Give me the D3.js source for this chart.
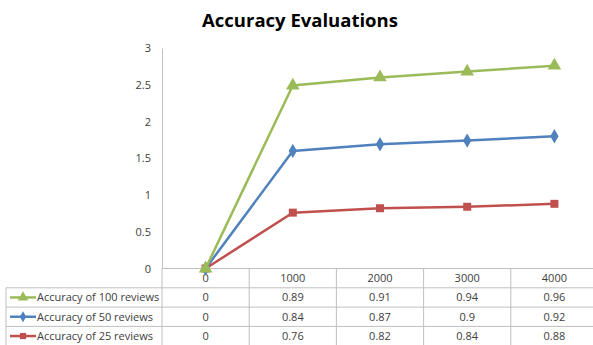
<!DOCTYPE html>
<html>
<head>
<meta charset="utf-8">
<script src="https://cdn.jsdelivr.net/npm/d3@7"></script>
<style>
  body { margin: 0; background: #fff; }
  text { font-family: "Open Sans", "Liberation Sans", sans-serif; fill: #404040; }
</style>
</head>
<body>
<div id="chart"></div>
<script>
const width = 593;
const height = 345;

const categories = ["0", "1000", "2000", "3000", "4000"];
const seriesNames = ["Accuracy of 100 reviews", "Accuracy of 50 reviews", "Accuracy of 25 reviews"];
const acc100 = [0, 0.89, 0.91, 0.94, 0.96];
const acc50 = [0, 0.84, 0.87, 0.9, 0.92];
const acc25 = [0, 0.76, 0.82, 0.84, 0.88];
const yTicks = [0, 0.5, 1, 1.5, 2, 2.5, 3];

const colors = ["#9bbb59", "#4f81bd", "#c0504d"];
const symbols = [d3.symbolTriangle, d3.symbolDiamond, d3.symbolSquare];
const symSizes = [80, 60, 64];

const plotLeft = 162;
const plotTop = 48;
const plotBottom = 268.5;
const rowH = 19.3;
const tableLeft = 6;
const lineColor = "#bfbfbf";

// stacked line chart: 25 at bottom, then 50, then 100
const raw = [acc100, acc50, acc25];
const stacked25 = acc25;
const stacked50 = acc50.map((v, i) => v + acc25[i]);
const stacked100 = acc100.map((v, i) => v + stacked50[i]);
const stackedSeries = [stacked100, stacked50, stacked25];

const svg = d3.select("#chart").append("svg")
    .attr("width", width)
    .attr("height", height);

const x = d3.scaleBand()
    .domain(categories)
    .range([plotLeft, plotLeft + 87.2 * 5]);

const y = d3.scaleLinear()
    .domain([0, 3])
    .range([plotBottom, plotTop]);

// title
svg.append("text")
    .attr("x", 300)
    .attr("y", 27)
    .attr("text-anchor", "middle")
    .style("font-size", "18.5px")
    .style("font-weight", "bold")
    .style("fill", "#000")
    .text("Accuracy Evaluations");

// y axis
const yAxis = svg.append("g")
    .attr("transform", `translate(${plotLeft},0)`)
    .call(d3.axisLeft(y).tickValues(yTicks).tickSize(0).tickPadding(11).tickFormat(d3.format("")));
yAxis.select(".domain").attr("stroke", lineColor);
yAxis.selectAll("text").style("font-size", "11px").style("fill", "#404040")
    .style("font-family", "\"Open Sans\", \"Liberation Sans\", sans-serif");

// table grid
const grid = svg.append("g").attr("stroke", lineColor).attr("stroke-width", 1);
const rightEdge = plotLeft + 87.2 * 5;
grid.append("line").attr("x1", plotLeft).attr("x2", rightEdge)
    .attr("y1", plotBottom).attr("y2", plotBottom);
for (let r = 1; r <= 4; r++) {
  grid.append("line").attr("x1", tableLeft).attr("x2", rightEdge)
      .attr("y1", plotBottom + r * rowH).attr("y2", plotBottom + r * rowH);
}
grid.append("line").attr("x1", tableLeft).attr("x2", tableLeft)
    .attr("y1", plotBottom + rowH).attr("y2", height);
grid.append("line").attr("x1", plotLeft).attr("x2", plotLeft)
    .attr("y1", plotBottom).attr("y2", height);
categories.slice(1).forEach(c => {
  grid.append("line").attr("x1", x(c)).attr("x2", x(c))
      .attr("y1", plotBottom).attr("y2", height);
});

// header row labels
svg.append("g").selectAll("text")
    .data(categories)
    .join("text")
    .attr("x", d => x(d) + x.bandwidth() / 2)
    .attr("y", plotBottom + rowH / 2 + 4)
    .attr("text-anchor", "middle")
    .style("font-size", "11px")
    .text(d => d);

// data rows
raw.forEach((vals, s) => {
  const rowY = plotBottom + (s + 1) * rowH + rowH / 2 + 4;
  svg.append("g").selectAll("text")
      .data(vals)
      .join("text")
      .attr("x", (d, i) => x(categories[i]) + x.bandwidth() / 2)
      .attr("y", rowY)
      .attr("text-anchor", "middle")
      .style("font-size", "11px")
      .text(d => d);

  // legend key
  const keyY = plotBottom + (s + 1) * rowH + rowH / 2;
  svg.append("line")
      .attr("x1", 10).attr("x2", 36)
      .attr("y1", keyY).attr("y2", keyY)
      .attr("stroke", colors[s]).attr("stroke-width", 2.5);
  svg.append("path")
      .attr("d", d3.symbol().type(symbols[s]).size(symSizes[s] * 0.6)())
      .attr("transform", `translate(23,${keyY})`)
      .attr("fill", colors[s]);
  svg.append("text")
      .attr("x", 37)
      .attr("y", keyY + 4)
      .style("font-size", "11px")
      .text(seriesNames[s]);
});

// lines, drawn 25 first so 100 ends on top
const line = d3.line()
    .x((d, i) => x(categories[i]) + x.bandwidth() / 2)
    .y(d => y(d));

[2, 1, 0].forEach(s => {
  svg.append("path")
      .datum(stackedSeries[s])
      .attr("fill", "none")
      .attr("stroke", colors[s])
      .attr("stroke-width", 2.5)
      .attr("d", line);
  svg.append("g").selectAll("path")
      .data(stackedSeries[s])
      .join("path")
      .attr("d", d3.symbol().type(symbols[s]).size(symSizes[s])())
      .attr("transform", (d, i) => `translate(${x(categories[i]) + x.bandwidth() / 2},${y(d)})`)
      .attr("fill", colors[s]);
});
</script>
</body>
</html>
